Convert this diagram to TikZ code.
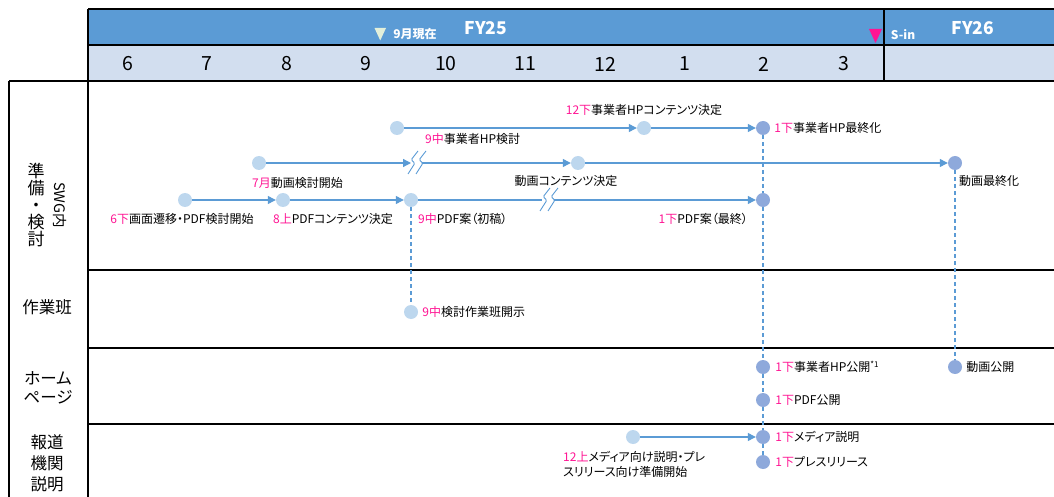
\documentclass[tikz,border=0pt]{standalone}
\usepackage{fontspec}
\setmainfont{Noto Sans CJK JP}[RawFeature=+palt]
\usetikzlibrary{arrows.meta,positioning}
\definecolor{hdrblue}{HTML}{5B9BD5}
\definecolor{monthblue}{HTML}{D2DEEF}
\definecolor{lightdot}{HTML}{BDD7EE}
\definecolor{darkdot}{HTML}{8EA9DB}
\definecolor{flowblue}{HTML}{5B9BD5}
\definecolor{mag}{HTML}{FF1493}
\definecolor{nowgreen}{HTML}{E2EFDA}
\newcommand{\when}[1]{\textcolor{mag}{#1}}

\begin{document}
\begin{tikzpicture}[
    x=1pt, y=-1pt,
    grid line/.style={line width=1.3pt, black},
    ldot/.style={circle, fill=lightdot, minimum size=14pt, inner sep=0pt},
    ddot/.style={circle, fill=darkdot, minimum size=14pt, inner sep=0pt},
    flow/.style={draw=flowblue, line width=1.2pt, -{Triangle[length=8pt,width=8pt]}},
    plain flow/.style={draw=flowblue, line width=1.2pt},
    link/.style={draw=flowblue, line width=1.2pt, dash pattern=on 4pt off 3pt},
    lbl/.style={font=\fontsize{12}{15}\selectfont, inner sep=1pt},
    month/.style={font=\fontsize{19.5}{22}\selectfont},
    lane/.style={font=\fontsize{16.5}{20}\selectfont, align=center},
    fy/.style={font=\bfseries\fontsize{17.5}{20}\selectfont, text=white},
    tag/.style={font=\bfseries\fontsize{12}{14}\selectfont, text=white},
    brk/.style={draw=flowblue, line width=0.9pt, rounded corners=1.5pt}
]
\useasboundingbox (0,0) rectangle (1054,497);

% Header
\fill[hdrblue] (88,9) rectangle (1054,45);
\fill[monthblue] (88,45) rectangle (1054,81);
\draw[grid line] (88,9) -- (1054,9);
\draw[grid line] (88,45) -- (1054,45);
\draw[grid line] (9,81) -- (1054,81);
\draw[grid line] (88,9) -- (88,497);
\draw[grid line] (884,9) -- (884,81);
\draw[grid line] (9,81) -- (9,497);
\foreach \y in {270,348,424}
    \draw[grid line] (88,\y) -- (1054,\y);

\node[fy] (fy25) at (486,28) {FY25};
\node[fy] (fy26) at (973,28) {FY26};
\fill[nowgreen] (374.5,28) -- (386,28) -- (380.25,40.5) -- cycle;
\node[tag] (now) at (415,34) {9月現在};
\fill[mag] (869,29) -- (882,29) -- (875.5,43) -- cycle;
\node[tag] (sin) at (903,35) {S-in};

\foreach \m [count=\i from 0] in {6,7,8,9,10,11,12,1,2,3}
    \node[month] (m\m) at (127.5+79.6*\i,64) {\m};

% Lanes
\node[lane, font=\fontsize{17}{17}\selectfont] (prep) at (36,205) {準\\備\\・\\検\\討};
\node[rotate=-90, font=\fontsize{14.5}{16}\selectfont] (swg) at (60,205) {SWG内};
\node[lane] (team) at (47,307) {作業班};
\node[lane, font=\fontsize{16.5}{19}\selectfont] (home) at (48,388) {ホーム\\ページ};
\node[lane, font=\fontsize{16.5}{21}\selectfont] (press) at (47,463) {報道\\機関\\説明};

% Milestones
\node[ldot] (a) at (397,128) {};
\node[ldot] (b) at (644,128) {};
\node[ddot] (c) at (763,128) {};
\node[ldot] (d) at (259,163) {};
\node[ldot] (e) at (578,163) {};
\node[ddot] (f) at (955,163) {};
\node[ldot] (g) at (185,200) {};
\node[ldot] (h) at (283,200) {};
\node[ldot] (i) at (411,200) {};
\node[ddot] (j) at (763,200) {};
\node[ldot] (k) at (411,312) {};
\node[ddot] (l) at (763,367) {};
\node[ddot] (m) at (763,400) {};
\node[ddot] (n) at (955,367) {};
\node[ldot] (o) at (633,437) {};
\node[ddot] (p) at (763,437) {};
\node[ddot] (q) at (763,462) {};

\coordinate (cut1) at (416,163);
\coordinate (cut2) at (548,200);

% Flows
\draw[flow] (a) -- (b);
\draw[flow] (b) -- (c);
\draw[flow] (d) -- ([xshift=-5pt]cut1);
\draw[flow] ([xshift=6pt]cut1) -- (e);
\draw[flow] (e) -- (f);
\draw[flow] (g) -- (h);
\draw[flow] (h) -- (i);
\draw[plain flow] (i) -- ([xshift=-6pt]cut2);
\draw[flow] ([xshift=6pt]cut2) -- (j);
\draw[flow] (o) -- (p);

\foreach \c in {cut1,cut2}
    \foreach \dx in {-4,4}
        \draw[brk, shift={(\c)}] (\dx+6,-12) -- ++(-7,9) -- ++(4,3) -- ++(-7,11);

\draw[link] (i) -- (k);
\draw[link] (c) -- (j);
\draw[link] (j) -- (l);
\draw[link] (l) -- (m);
\draw[link] (m) -- (p);
\draw[link] (p) -- (q);
\draw[link] (f) -- (n);

% Labels
\node[lbl, above=4pt of b] (bl) {\when{12下}事業者HPコンテンツ決定};
\node[lbl, right=3pt of c] (cl) {\when{1下}事業者HP最終化};
\node[lbl, anchor=west] (al) at (424,139) {\when{9中}事業者HP検討};
\node[lbl, anchor=west] (dl) at (251,183) {\when{7月}動画検討開始};
\node[lbl] (el) at (566,181) {動画コンテンツ決定};
\node[lbl, anchor=west] (fl) at (958,181) {動画最終化};
\node[lbl] (gl) at (182,219) {\when{6下}画面遷移・PDF検討開始};
\node[lbl] (hl) at (333,219) {\when{8上}PDFコンテンツ決定};
\node[lbl, anchor=west] (il) at (417,219) {\when{9中}PDF案（初稿）};
\node[lbl, anchor=east] (jl) at (749,219) {\when{1下}PDF案（最終）};
\node[lbl, right=3pt of k] (kl) {\when{9中}検討作業班開示};
\node[lbl, right=4pt of l] (ll) {\when{1下}事業者HP公開\textsuperscript{*1}};
\node[lbl, right=4pt of m] (ml) {\when{1下}PDF公開};
\node[lbl, right=3pt of n] (nl) {動画公開};
\node[lbl, right=4pt of p] (pl) {\when{1下}メディア説明};
\node[lbl, right=4pt of q] (ql) {\when{1下}プレスリリース};
\node[lbl, anchor=north west, align=left] (ol) at (562,450) {\when{12上}メディア向け説明・プレ\\スリリース向け準備開始};

\end{tikzpicture}
\end{document}
